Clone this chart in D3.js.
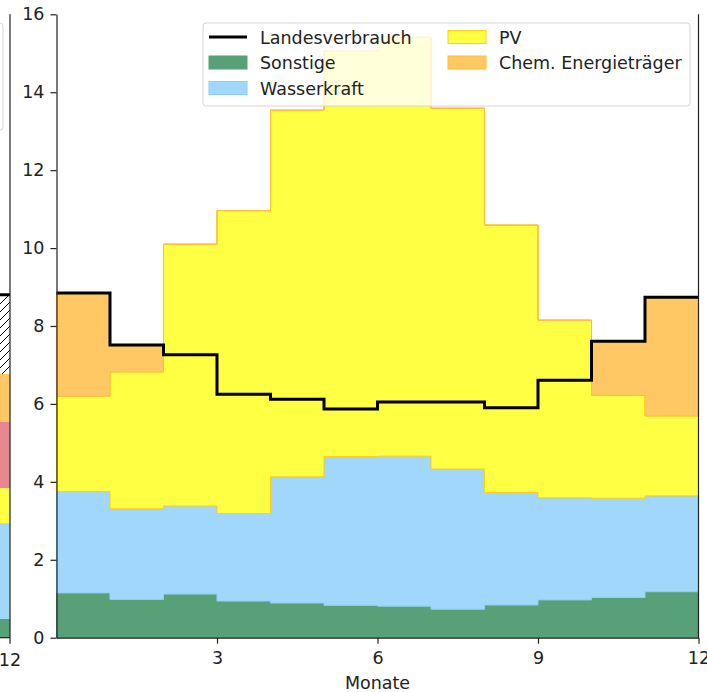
<!DOCTYPE html>
<html>
<head>
<meta charset="utf-8">
<script src="https://cdn.jsdelivr.net/npm/d3@7"></script>
<style>
body{margin:0;background:#fff;}
svg{display:block;font-family:"DejaVu Sans",sans-serif;}
</style>
</head>
<body>
<div class="canvas"></div>
<script>
// monthly values (TWh), one step per month
const monate=[1,2,3,4,5,6,7,8,9,10,11,12];
const sonstige=[1.15,0.98,1.12,0.94,0.89,0.83,0.81,0.73,0.84,0.97,1.03,1.18];
const wasserkraft=[2.60,2.33,2.26,2.25,3.24,3.82,3.85,3.60,2.89,2.62,2.55,2.46];
const pv=[2.45,3.51,6.72,7.77,9.41,10.41,10.75,9.26,6.86,4.56,2.64,2.05];
const chem=[2.65,0.69,0,0,0,0,0,0,0,0,1.39,3.03];
const landesverbrauch=[8.85,7.51,7.26,6.25,6.12,5.87,6.05,6.05,5.90,6.61,7.61,8.74];
const yTicks=[0,2,4,6,8,10,12,14,16];
const xTicks=[3,6,9,12];

// neighbour panel (only the last month is visible at the left edge)
const nachbarKategorien=['Sonstige','Wasserkraft','PV','Kernkraft','Chem. Energieträger','Import'];
const nachbarWerte=[0.48,2.46,0.90,1.70,1.23,2.03];

const fs=17.5;
const dims={width:707,height:692};
const svg=d3.select('.canvas').append('svg')
      .attr('width',dims.width)
      .attr('height',dims.height);

const x=d3.scaleLinear().domain([0,12]).range([56.5,698.5]);
const y=d3.scaleLinear().domain([0,16]).range([637.7,14.3]);

const keys=['Sonstige','Wasserkraft','PV','Chem. Energieträger'];
const series={'Sonstige':sonstige,'Wasserkraft':wasserkraft,'PV':pv,'Chem. Energieträger':chem};
const fills={'Sonstige':'#58a178','Wasserkraft':'#a0d7fa','PV':'#ffff44','Chem. Energieträger':'#ffc864'};
const edges={'Sonstige':'#58a178','Wasserkraft':'#8fcff5','PV':'#ffcf1c','Chem. Energieträger':'#ffbd3a'};

// rows, with one extra row at x=12 so the last step is drawn
const rows=monate.map((m,i)=>{
  const r={x:m-1};
  keys.forEach(k=>r[k]=series[k][i]);
  return r;
});
const last={x:12};
keys.forEach(k=>last[k]=series[k][11]);
rows.push(last);

const stack=d3.stack().keys(keys);
const layers=stack(rows);

const area=d3.area()
  .curve(d3.curveStepAfter)
  .x(d=>x(d.data.x))
  .y0(d=>y(d[0]))
  .y1(d=>y(d[1]));

//hatch for neighbour import
const defs=svg.append('defs');
defs.append('pattern')
  .attr('id','hatch').attr('patternUnits','userSpaceOnUse')
  .attr('width',8).attr('height',8)
  .append('path').attr('d','M-2,2 L2,-2 M0,8 L8,0 M6,10 L10,6')
  .attr('stroke','#000').attr('stroke-width',1);

// ---- neighbour panel sliver ----
const xn=d3.scaleLinear().domain([0,12]).range([10-642,10]);
const nColors=['#58a178','#a0d7fa','#ffff44','#e8878f','#ffc864','url(#hatch)'];
let acc=0;
const nStack=nachbarWerte.map((v,i)=>{const s={y0:acc,y1:acc+v,i:i};acc+=v;return s;});
const ng=svg.append('g');
ng.selectAll('rect.n').data(nStack).enter().append('rect')
  .attr('x',xn(11)).attr('width',xn(12)-xn(11))
  .attr('y',d=>y(d.y1)).attr('height',d=>y(d.y0)-y(d.y1))
  .attr('fill',d=>nColors[d.i]);
ng.append('line')
  .attr('x1',xn(11)).attr('x2',xn(12))
  .attr('y1',y(acc)).attr('y2',y(acc))
  .attr('stroke','#000').attr('stroke-width',3);
ng.append('line').attr('x1',xn(12)).attr('x2',xn(12)).attr('y1',y(16)).attr('y2',y(0))
  .attr('stroke','#222').attr('stroke-width',1.2);
ng.append('line').attr('x1',-5).attr('x2',xn(12)).attr('y1',y(0)).attr('y2',y(0))
  .attr('stroke','#222').attr('stroke-width',1.2);
ng.append('line').attr('x1',xn(12)).attr('x2',xn(12)).attr('y1',y(0)).attr('y2',y(0)+6)
  .attr('stroke','#222').attr('stroke-width',1.2);
ng.append('text').attr('x',xn(12)).attr('y',y(0)+28).attr('text-anchor','middle')
  .attr('font-size',fs).attr('fill','#222').text('12');
ng.append('rect').attr('x',-200).attr('y',23).attr('width',203).attr('height',107)
  .attr('rx',3).attr('fill','#fff').attr('fill-opacity',0.8)
  .attr('stroke','#d6d6d6').attr('stroke-width',1);

// ---- main panel ----
const graph=svg.append('g');

graph.selectAll('path.layer')
  .data(layers)
  .enter().append('path')
  .attr('class','layer')
  .attr('d',area)
  .attr('fill',d=>fills[d.key])
  .attr('stroke',d=>edges[d.key])
  .attr('stroke-width',1);

const lineRows=landesverbrauch.map((v,i)=>({x:i,v:v}));
lineRows.push({x:12,v:landesverbrauch[11]});
const line=d3.line().curve(d3.curveStepAfter).x(d=>x(d.x)).y(d=>y(d.v));
graph.append('path')
  .attr('d',line(lineRows))
  .attr('fill','none')
  .attr('stroke','#000')
  .attr('stroke-width',3);

//axes
const yAxis=d3.axisLeft(y).tickValues(yTicks).tickSize(6).tickPadding(6).tickSizeOuter(0);
const xAxis=d3.axisBottom(x).tickValues(xTicks).tickSize(6).tickPadding(8).tickSizeOuter(0);

const gy=svg.append('g').attr('transform',`translate(${x(0)},0)`).call(yAxis);
const gx=svg.append('g').attr('transform',`translate(0,${y(0)})`).call(xAxis);
[gx,gy].forEach(g=>{
  g.selectAll('text').attr('font-size',fs).attr('fill','#222').attr('font-family','"DejaVu Sans",sans-serif');
  g.selectAll('line').attr('stroke','#222').attr('stroke-width',1.2);
  g.select('.domain').attr('stroke','#222').attr('stroke-width',1.2);
});
svg.append('line').attr('x1',x(12)).attr('x2',x(12)).attr('y1',y(16)).attr('y2',y(0))
  .attr('stroke','#222').attr('stroke-width',1.2);

svg.append('text').attr('x',x(6)).attr('y',689).attr('text-anchor','middle')
  .attr('font-size',fs).attr('fill','#222').text('Monate');

//legend
const legend=svg.append('g');
legend.append('rect').attr('x',203).attr('y',23).attr('width',487).attr('height',83)
  .attr('rx',3).attr('fill','#fff').attr('fill-opacity',0.8)
  .attr('stroke','#d6d6d6').attr('stroke-width',1);
const items=[
  {label:'Landesverbrauch',type:'line',col:0,row:0},
  {label:'Sonstige',key:'Sonstige',col:0,row:1},
  {label:'Wasserkraft',key:'Wasserkraft',col:0,row:2},
  {label:'PV',key:'PV',col:1,row:0},
  {label:'Chem. Energieträger',key:'Chem. Energieträger',col:1,row:1}
];
const colX=[209,448];
items.forEach(it=>{
  const cy=37+it.row*25.5;
  const hx=colX[it.col];
  if(it.type==='line'){
    legend.append('line').attr('x1',hx).attr('x2',hx+38).attr('y1',cy).attr('y2',cy)
      .attr('stroke','#000').attr('stroke-width',3);
  }else{
    legend.append('rect').attr('x',hx).attr('y',cy-6.5).attr('width',38).attr('height',13)
      .attr('fill',fills[it.key]).attr('stroke',edges[it.key]).attr('stroke-width',1);
  }
  legend.append('text').attr('x',hx+51).attr('y',cy+6.5).attr('font-size',fs)
    .attr('fill','#222').text(it.label);
});
</script>
</body>
</html>
